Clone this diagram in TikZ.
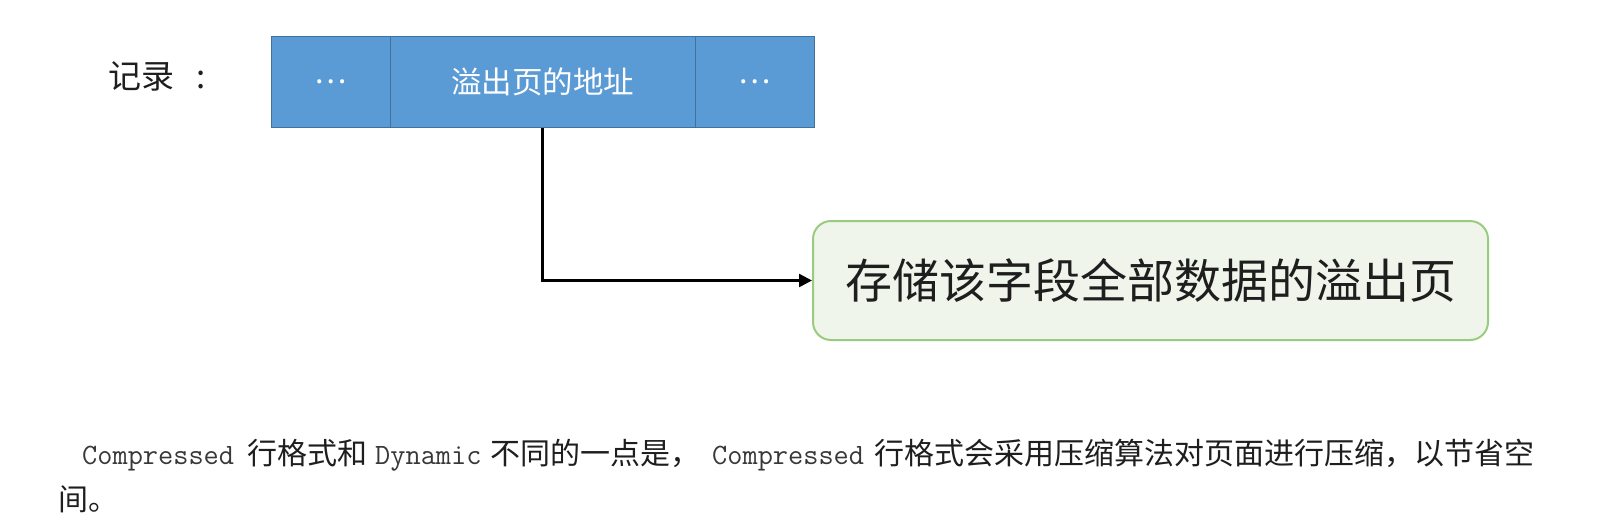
\documentclass[tikz,border=0pt]{standalone}
\usepackage{fontspec}
\newfontfamily\cjk{Noto Sans CJK SC}
\usetikzlibrary{arrows.meta}
\definecolor{cellblue}{HTML}{5B9BD5}
\definecolor{cellline}{HTML}{41719C}
\definecolor{pagefill}{HTML}{EFF5EA}
\definecolor{pageline}{HTML}{9BCB7E}
\definecolor{monogray}{HTML}{383838}
\definecolor{textdark}{HTML}{1E1E1E}
\begin{document}
\begin{tikzpicture}[x=1pt,y=-1pt,
  cell/.style={draw=cellline, fill=cellblue, line width=1pt, minimum height=91pt, inner sep=0pt, text=white, font=\cjk\fontsize{30.5}{36}\selectfont},
  pagebox/.style={draw=pageline, fill=pagefill, line width=2pt, rounded corners=18pt, minimum width=675pt, minimum height=119pt, inner sep=0pt, text=textdark, font=\cjk\fontsize{47}{56}\selectfont},
  label/.style={inner sep=0pt, text=textdark, font=\cjk\fontsize{33}{38}\selectfont},
  cjktext/.style={inner sep=0pt, anchor=base west, text=textdark, font=\cjk\fontsize{30}{36}\selectfont},
  monotext/.style={inner sep=0pt, anchor=base west, text=monogray, font=\ttfamily\fontsize{29.5}{36}\selectfont},
  link/.style={line width=2.5pt, -{Triangle[length=13pt,width=13pt]}}
]
\useasboundingbox (0,0) rectangle (1611,523);
\node[label, anchor=west] (rec) at (108,76) {记录\hspace{22pt}:};
\node[cell, minimum width=119pt] (c1) at (330.5,81.5) {…};
\node[cell, minimum width=305pt] (c2) at (542.5,81.5) {溢出页的地址};
\node[cell, minimum width=119pt] (c3) at (754.5,81.5) {…};
\node[pagebox] (page) at (1150.5,280.5) {存储该字段全部数据的溢出页};
\draw[link] (c2.south) |- (page.west);
\node[monotext] (m1) at (82,464) {Compressed};
\node[cjktext] (t1) at (247,464) {行格式和};
\node[monotext] (m2) at (375,464) {Dynamic};
\node[cjktext] (t2) at (490,464) {不同的一点是，};
\node[monotext] (m3) at (712,464) {Compressed};
\node[cjktext] (t3) at (874,464) {行格式会采用压缩算法对页面进行压缩，以节省空};
\node[cjktext] (t4) at (58,510) {间。};
\end{tikzpicture}
\end{document}
